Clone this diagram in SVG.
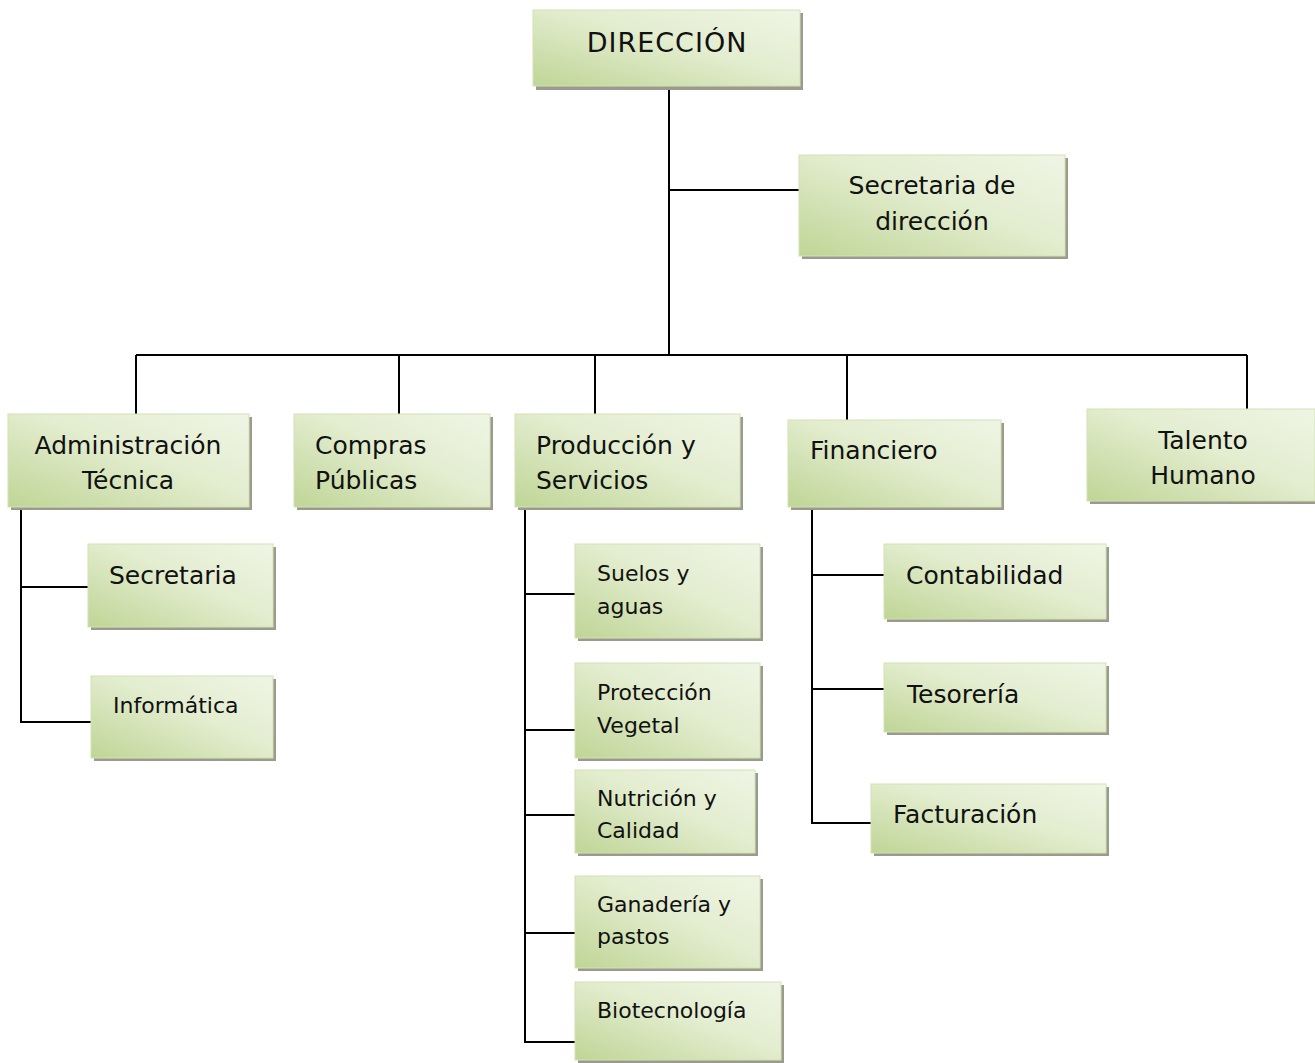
<svg xmlns="http://www.w3.org/2000/svg" width="1315" height="1063" viewBox="0 0 1315 1063">
<defs>
<linearGradient id="g" x1="0" y1="1" x2="1" y2="0">
<stop offset="0" stop-color="#bfd596"/>
<stop offset="0.55" stop-color="#e3edcf"/>
<stop offset="1" stop-color="#eff5e5"/>
</linearGradient>
</defs>
<style>
.sh{fill:#9a9b8c}
.bx{fill:url(#g);stroke:#d3e2b5;stroke-width:1}
.t{font-family:"DejaVu Sans",sans-serif;font-size:25px;fill:#111}
.s{font-family:"DejaVu Sans",sans-serif;font-size:22px;fill:#111}
.c{text-anchor:middle}
.ln{stroke:#000;stroke-width:2;fill:none}
</style>
<rect width="1315" height="1063" fill="#fff"/>
<g id="connectors">
<path class="ln" d="M669 86V355M669 190H799M136 355H1247M136 355V414M399 355V414M595 355V414M847 355V420M1247 355V409"/>
<path class="ln" d="M21 507V722H91M21 587H88"/>
<path class="ln" d="M525 507V1042H575M525 594H575M525 730H575M525 815H575M525 933H575"/>
<path class="ln" d="M812 507V823H871M812 575H884M812 689H884"/>
</g>
<g id="direccion"><rect class="sh" x="536" y="13" width="267" height="77"/><rect class="bx" x="533" y="10" width="267" height="76"/><text class="t c" x="667" y="52" style="font-size:27px;letter-spacing:1px">DIRECCIÓN</text></g>
<g id="secretaria-direccion"><rect class="sh" x="802" y="158" width="266" height="101"/><rect class="bx" x="799" y="155" width="266" height="101"/><text class="t c" x="932" y="194">Secretaria de</text><text class="t c" x="932" y="230">dirección</text></g>
<g id="admin"><rect class="sh" x="11" y="417" width="241" height="93"/><rect class="bx" x="8" y="414" width="241" height="93"/><text class="t c" x="128" y="454">Administración</text><text class="t c" x="128" y="489">Técnica</text></g>
<g id="compras"><rect class="sh" x="297" y="417" width="196" height="93"/><rect class="bx" x="294" y="414" width="196" height="93"/><text class="t" x="315" y="454">Compras</text><text class="t" x="315" y="489">Públicas</text></g>
<g id="produccion"><rect class="sh" x="518" y="417" width="225" height="93"/><rect class="bx" x="515" y="414" width="225" height="93"/><text class="t" x="536" y="454">Producción y</text><text class="t" x="536" y="489">Servicios</text></g>
<g id="financiero"><rect class="sh" x="791" y="423" width="213" height="87"/><rect class="bx" x="788" y="420" width="213" height="87"/><text class="t" x="810" y="459">Financiero</text></g>
<g id="talento"><rect class="sh" x="1090" y="412" width="228" height="92"/><rect class="bx" x="1087" y="409" width="228" height="92"/><text class="t c" x="1203" y="449">Talento</text><text class="t c" x="1203" y="484">Humano</text></g>
<g id="secretaria"><rect class="sh" x="91" y="547" width="185" height="83"/><rect class="bx" x="88" y="544" width="185" height="83"/><text class="t" x="109" y="584">Secretaria</text></g>
<g id="informatica"><rect class="sh" x="94" y="679" width="182" height="82"/><rect class="bx" x="91" y="676" width="182" height="82"/><text class="s" x="113" y="713">Informática</text></g>
<g id="suelos"><rect class="sh" x="578" y="547" width="185" height="94"/><rect class="bx" x="575" y="544" width="185" height="94"/><text class="s" x="597" y="581">Suelos y</text><text class="s" x="597" y="614">aguas</text></g>
<g id="proteccion"><rect class="sh" x="578" y="666" width="185" height="95"/><rect class="bx" x="575" y="663" width="185" height="95"/><text class="s" x="597" y="700">Protección</text><text class="s" x="597" y="733">Vegetal</text></g>
<g id="nutricion"><rect class="sh" x="578" y="773" width="180" height="83"/><rect class="bx" x="575" y="770" width="180" height="83"/><text class="s" x="597" y="806">Nutrición y</text><text class="s" x="597" y="838">Calidad</text></g>
<g id="ganaderia"><rect class="sh" x="578" y="879" width="185" height="92"/><rect class="bx" x="575" y="876" width="185" height="92"/><text class="s" x="597" y="912">Ganadería y</text><text class="s" x="597" y="944">pastos</text></g>
<g id="biotecnologia"><rect class="sh" x="578" y="985" width="206" height="78"/><rect class="bx" x="575" y="982" width="206" height="78"/><text class="s" x="597" y="1018">Biotecnología</text></g>
<g id="contabilidad"><rect class="sh" x="887" y="547" width="222" height="75"/><rect class="bx" x="884" y="544" width="222" height="75"/><text class="t" x="906" y="584">Contabilidad</text></g>
<g id="tesoreria"><rect class="sh" x="887" y="666" width="222" height="69"/><rect class="bx" x="884" y="663" width="222" height="69"/><text class="t" x="907" y="703">Tesorería</text></g>
<g id="facturacion"><rect class="sh" x="874" y="787" width="235" height="69"/><rect class="bx" x="871" y="784" width="235" height="69"/><text class="t" x="893" y="823">Facturación</text></g>
</svg>
